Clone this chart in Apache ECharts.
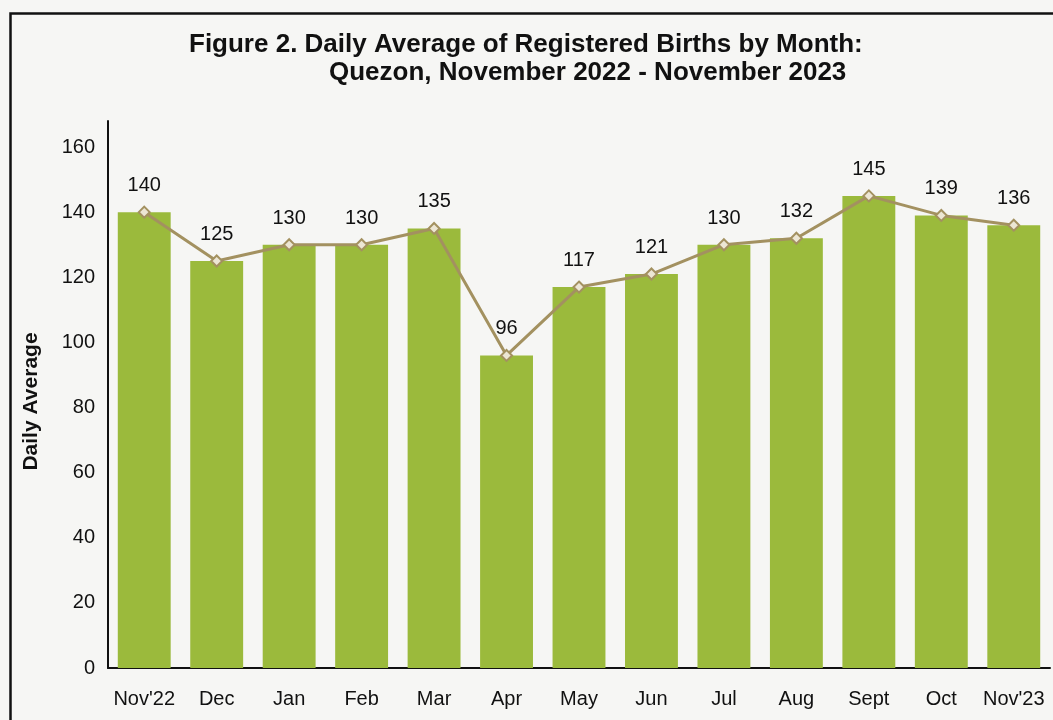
<!DOCTYPE html>
<html>
<head>
<meta charset="utf-8">
<script src="https://cdn.jsdelivr.net/npm/echarts@6/dist/echarts.min.js"></script>
<style>
html,body{margin:0;padding:0;background:#f6f6f4;}
#chart{width:1053px;height:720px;}
</style>
</head>
<body>
<div id="chart"></div>
<script>
const categories = ["Nov'22","Dec","Jan","Feb","Mar","Apr","May","Jun","Jul","Aug","Sept","Oct","Nov'23"];
const dailyAverage = [140,125,130,130,135,96,117,121,130,132,145,139,136];
const titleLine1 = "Figure 2. Daily Average of Registered Births by Month:";
const titleLine2 = "Quezon, November 2022 - November 2023";
const yAxisName = "Daily Average";

const chart = echarts.init(document.getElementById('chart'), null, {renderer:'canvas'});
const lineColor = '#a39160';
const barColor = '#9bba3c';
const titleFont = '"Liberation Sans Narrow", "Arial Narrow", "Liberation Sans", sans-serif';
const font = '"Liberation Sans", Arial, sans-serif';
chart.setOption({
  backgroundColor: '#f6f6f4',
  animation: false,
  title: [
    {text: titleLine1, left: 184, top: 27, textStyle:{fontFamily: titleFont, fontSize: 26, fontWeight:'bold', color:'#111'}},
    {text: titleLine2, left: 324, top: 55, textStyle:{fontFamily: titleFont, fontSize: 26, fontWeight:'bold', color:'#111'}}
  ],
  graphic: [
    {type:'rect', left: 8, top: 11, shape:{width: 1200, height: 900}, style:{fill:'none', stroke:'#111', lineWidth: 2.5}, silent:true}
  ],
  grid: {left: 108, right: 3, top: 121, bottom: 52},
  xAxis: {
    type: 'category',
    data: categories,
    axisLine: {show: true, lineStyle:{color:'#111', width: 2}},
    axisTick: {show: false},
    axisLabel: {color:'#111', fontSize: 20, fontFamily: font, margin: 21, interval: 0, hideOverlap: false}
  },
  yAxis: {
    type: 'value',
    min: 0, max: 168, interval: 20,
    name: yAxisName,
    nameLocation: 'middle',
    nameGap: 66,
    nameTextStyle: {color:'#111', fontSize: 21, fontWeight:'bold', fontFamily: font, padding: [0, 14, 0, 0]},
    axisLine: {show: true, lineStyle:{color:'#111', width: 2}},
    axisTick: {show: false},
    splitLine: {show: false},
    axisLabel: {color:'#111', fontSize: 20, fontFamily: font, margin: 13,
      formatter: v => (v % 20 === 0 ? String(v) : '')}
  },
  series: [
    {
      type: 'bar',
      data: dailyAverage,
      barCategoryGap: '27%',
      itemStyle: {color: barColor},
      z: 1
    },
    {
      type: 'line',
      data: dailyAverage,
      symbol: 'diamond',
      symbolSize: 11,
      itemStyle: {color: '#ece6d4', borderColor: lineColor, borderWidth: 2},
      lineStyle: {color: lineColor, width: 3},
      label: {show: true, position: 'top', distance: 10, color:'#111', fontSize: 20, fontFamily: font},
      z: 3
    }
  ]
});
</script>
</body>
</html>
